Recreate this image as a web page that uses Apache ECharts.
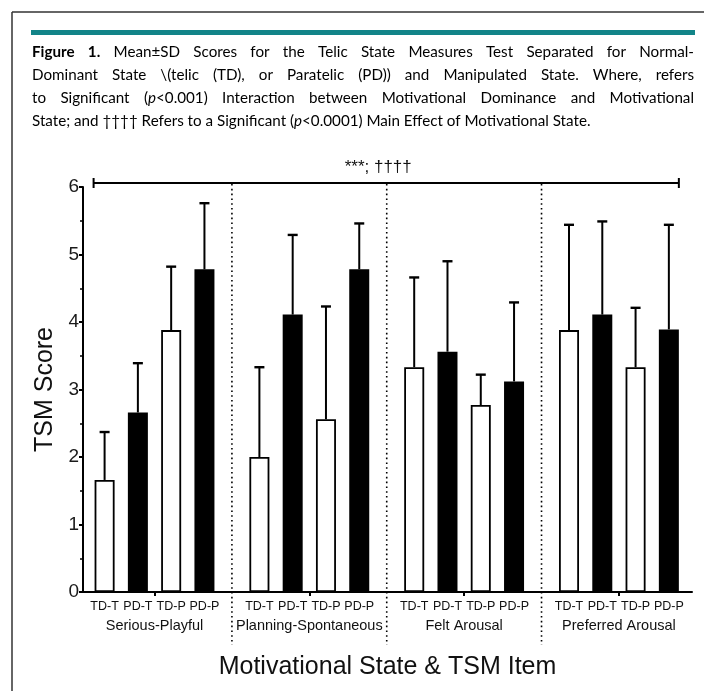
<!DOCTYPE html>
<html><head><meta charset="utf-8">
<script src="https://cdn.jsdelivr.net/npm/echarts@6/dist/echarts.min.js"></script>
<style>html,body{margin:0;padding:0;background:#fff}#c{width:704px;height:691px}</style>
</head><body><div id="c"></div>
<script>
// ---------- data ----------
const groups = ['Serious-Playful', 'Planning-Spontaneous', 'Felt Arousal', 'Preferred Arousal'];
const conditions = ['TD-T', 'PD-T', 'TD-P', 'PD-P'];
const meanTDT = [1.66, 2.00, 3.33, 3.88];
const sdTDT   = [0.71, 1.33, 1.33, 1.56];
const meanPDT = [2.66, 4.11, 3.56, 4.11];
const sdPDT   = [0.73, 1.18, 1.34, 1.38];
const meanTDP = [3.88, 2.56, 2.77, 3.33];
const sdTDP   = [0.94, 1.67, 0.45, 0.88];
const meanPDP = [4.78, 4.78, 3.12, 3.89];
const sdPDP   = [0.98, 0.68, 1.17, 1.55];
const yTicks = [0, 1, 2, 3, 4, 5, 6];
const sigLabel = '***; ††††';
const xAxisTitle = 'Motivational State & TSM Item';
const yAxisTitle = 'TSM Score';
const captionLines = [
  ['{b|Figure}', '{b|1.}', 'Mean±SD', 'Scores', 'for', 'the', 'Telic', 'State', 'Measures', 'Test', 'Separated', 'for', 'Normal-'],
  ['Dominant', 'State', '\\(telic', '(TD),', 'or', 'Paratelic', '(PD))', 'and', 'Manipulated', 'State.', 'Where,', 'refers'],
  ['to', 'Significant', '({i|p}<0.001)', 'Interaction', 'between', 'Motivational', 'Dominance', 'and', 'Motivational'],
  ['State;', 'and', '††††', 'Refers', 'to', 'a', 'Significant', '({i|p}<0.0001)', 'Main', 'Effect', 'of', 'Motivational', 'State.']
];

// ---------- layout ----------
const means = [meanTDT, meanPDT, meanTDP, meanPDP];
const sds = [sdTDT, sdPDT, sdTDP, sdPDP];
const fills = ['#ffffff', '#000000', '#ffffff', '#000000'];
const STEP = 0.215;
const XMIN = -0.462, XMAX = 3.472;
const BAR_W = 20;
const barX = (g, i) => g + (i - 1.5) * STEP;

const barData = [], errData = [], codePos = [], codeText = [];
groups.forEach((name, g) => conditions.forEach((c, i) => {
  const x = barX(g, i);
  barData.push({ value: [x, means[i][g]], itemStyle: { color: fills[i], borderColor: '#000', borderWidth: 1.8 } });
  errData.push([x, means[i][g], means[i][g] + sds[i][g]]);
  codePos.push(x); codeText.push(c);
}));
const groupPos = groups.map((_, g) => g);
const sepPos = groups.slice(1).map((_, g) => g + 0.5);

function nearest(arr, v) {
  let best = 0;
  arr.forEach((p, k) => { if (Math.abs(p - v) < Math.abs(arr[best] - v)) best = k; });
  return best;
}

// ---------- caption (justified) ----------
const FS = 15.2, CAP_FONT = 'Lato', CAP_L = 32, CAP_R = 694;
const capY = [52, 75.5, 98.5, 121];
const ctx = document.createElement('canvas').getContext('2d');
function segs(word) {
  const out = []; const re = /\{(b|i)\|([^}]*)\}|([^{]+)/g; let m;
  while ((m = re.exec(word))) out.push(m[1] ? { s: m[1], t: m[2] } : { s: 'n', t: m[3] });
  return out;
}
function fontOf(s) { return (s === 'b' ? 'bold ' : s === 'i' ? 'italic ' : '') + FS + 'px ' + CAP_FONT; }
function wordW(word) { return segs(word).reduce((w, sg) => { ctx.font = fontOf(sg.s); return w + ctx.measureText(sg.t).width; }, 0); }
ctx.font = fontOf('n');
const spaceW = ctx.measureText(' ').width;
const rich = {
  n: { fontFamily: CAP_FONT, fontSize: FS, color: '#231f20' },
  b: { fontFamily: CAP_FONT, fontSize: FS, fontWeight: 'bold', color: '#231f20' },
  i: { fontFamily: CAP_FONT, fontSize: FS, fontStyle: 'italic', color: '#231f20' }
};
const captionGraphics = [];
captionLines.forEach((words, li) => {
  const ws = words.map(wordW);
  const total = ws.reduce((a, b) => a + b, 0);
  const last = li === captionLines.length - 1;
  const gap = last ? spaceW : (CAP_R - CAP_L - total) / (words.length - 1);
  let x = CAP_L;
  words.forEach((w, k) => {
    captionGraphics.push({
      type: 'text', x: x, y: capY[li], silent: true,
      style: { text: segs(w).map(sg => '{' + sg.s + '|' + sg.t + '}').join(''), rich: rich, verticalAlign: 'middle', align: 'left' }
    });
    x += ws[k] + gap;
  });
});

// ---------- chart ----------
const chart = echarts.init(document.getElementById('c'), null, { renderer: 'canvas' });
const AX = '"Liberation Sans", Arial, sans-serif';
chart.setOption({
  animation: false,
  backgroundColor: '#fff',
  grid: { left: 83, right: 12, top: 187, bottom: 99, containLabel: false, outerBoundsMode: 'none' },
  xAxis: [{
    type: 'value', min: XMIN, max: XMAX,
    axisLine: { show: true, onZero: false, lineStyle: { color: '#000', width: 2 } },
    axisTick: { show: true, customValues: groupPos, length: 4, lineStyle: { color: '#000', width: 2 } },
    axisLabel: { show: true, customValues: codePos, margin: 8, fontSize: 12.5, color: '#111', fontFamily: AX,
      formatter: v => codeText[nearest(codePos, v)] },
    splitLine: { show: false }
  }, {
    type: 'value', min: XMIN, max: XMAX, position: 'bottom', offset: 18,
    axisLine: { show: false, onZero: false }, axisTick: { show: false }, splitLine: { show: false },
    axisLabel: { show: true, customValues: groupPos, margin: 8, fontSize: 14.5, color: '#111', fontFamily: AX,
      formatter: v => groups[nearest(groupPos, v)] },
    name: xAxisTitle, nameLocation: 'middle', nameGap: 45,
    nameTextStyle: { fontSize: 25, color: '#111', fontFamily: AX }
  }],
  yAxis: {
    type: 'value', min: yTicks[0], max: yTicks[yTicks.length - 1], interval: 1,
    axisLine: { show: true, onZero: false, lineStyle: { color: '#000', width: 2 } },
    axisTick: { show: true, length: 4, lineStyle: { color: '#000', width: 2 } },
    minorTick: { show: true, splitNumber: 2, length: 3, lineStyle: { color: '#000', width: 1.5 } },
    splitLine: { show: false }, minorSplitLine: { show: false },
    axisLabel: { fontSize: 19, color: '#1a1a1a', margin: 4, fontFamily: AX },
    name: yAxisTitle, nameLocation: 'middle', nameRotate: 90, nameGap: 24,
    nameTextStyle: { fontSize: 25, color: '#111', fontFamily: AX }
  },
  series: [{
    type: 'bar', data: barData, barWidth: BAR_W, z: 2
  }, {
    type: 'custom', z: 3, clip: false, data: errData,
    encode: { x: 0, y: [1, 2] },
    renderItem: (params, api) => {
      const x = api.value(0);
      const lo = api.coord([x, api.value(1)]), hi = api.coord([x, api.value(2)]);
      const cap = 5;
      return { type: 'group', children: [
        { type: 'line', shape: { x1: lo[0], y1: lo[1], x2: hi[0], y2: hi[1] }, style: { stroke: '#000', lineWidth: 2 } },
        { type: 'line', shape: { x1: hi[0] - cap, y1: hi[1], x2: hi[0] + cap, y2: hi[1] }, style: { stroke: '#000', lineWidth: 2.4 } }
      ] };
    }
  }, {
    type: 'custom', z: 1, clip: false, data: sepPos.map(p => [p]),
    encode: { x: 0 },
    renderItem: (params, api) => {
      const x = api.value(0);
      const top = api.coord([x, yTicks[yTicks.length - 1]]), bot = api.coord([x, yTicks[0]]);
      return { type: 'line', shape: { x1: top[0], y1: top[1] - 3, x2: bot[0], y2: bot[1] + 53 },
        style: { stroke: '#000', lineWidth: 1.6, lineDash: [1.6, 3.2] } };
    }
  }, {
    type: 'custom', z: 4, clip: false, data: [[barX(0, 0), barX(groups.length - 1, conditions.length - 1)]],
    encode: { x: [0, 1] },
    renderItem: (params, api) => {
      const yTop = yTicks[yTicks.length - 1];
      const l = api.coord([api.value(0), yTop]), r = api.coord([api.value(1), yTop]);
      const y = l[1] - 4, xl = l[0] - BAR_W / 2 - 1, xr = r[0] + BAR_W / 2;
      return { type: 'group', children: [
        { type: 'line', shape: { x1: xl, y1: y, x2: xr, y2: y }, style: { stroke: '#000', lineWidth: 2 } },
        { type: 'line', shape: { x1: xl, y1: y - 5, x2: xl, y2: y + 5 }, style: { stroke: '#000', lineWidth: 2 } },
        { type: 'line', shape: { x1: xr, y1: y - 5, x2: xr, y2: y + 5 }, style: { stroke: '#000', lineWidth: 2 } },
        { type: 'text', x: (xl + xr) / 2 - 8, y: y - 16,
          style: { text: sigLabel, fontSize: 17, fontFamily: AX, fill: '#111', align: 'center', verticalAlign: 'middle' } }
      ] };
    }
  }],
  graphic: [
    { type: 'line', shape: { x1: 12, y1: 12, x2: 12, y2: 691 }, style: { stroke: '#333', lineWidth: 1.5 }, silent: true },
    { type: 'line', shape: { x1: 12, y1: 12, x2: 704, y2: 12 }, style: { stroke: '#333', lineWidth: 1.5 }, silent: true },
    { type: 'rect', shape: { x: 31, y: 30, width: 664, height: 5 }, style: { fill: '#128488' }, silent: true }
  ].concat(captionGraphics)
});
</script>
</body></html>
